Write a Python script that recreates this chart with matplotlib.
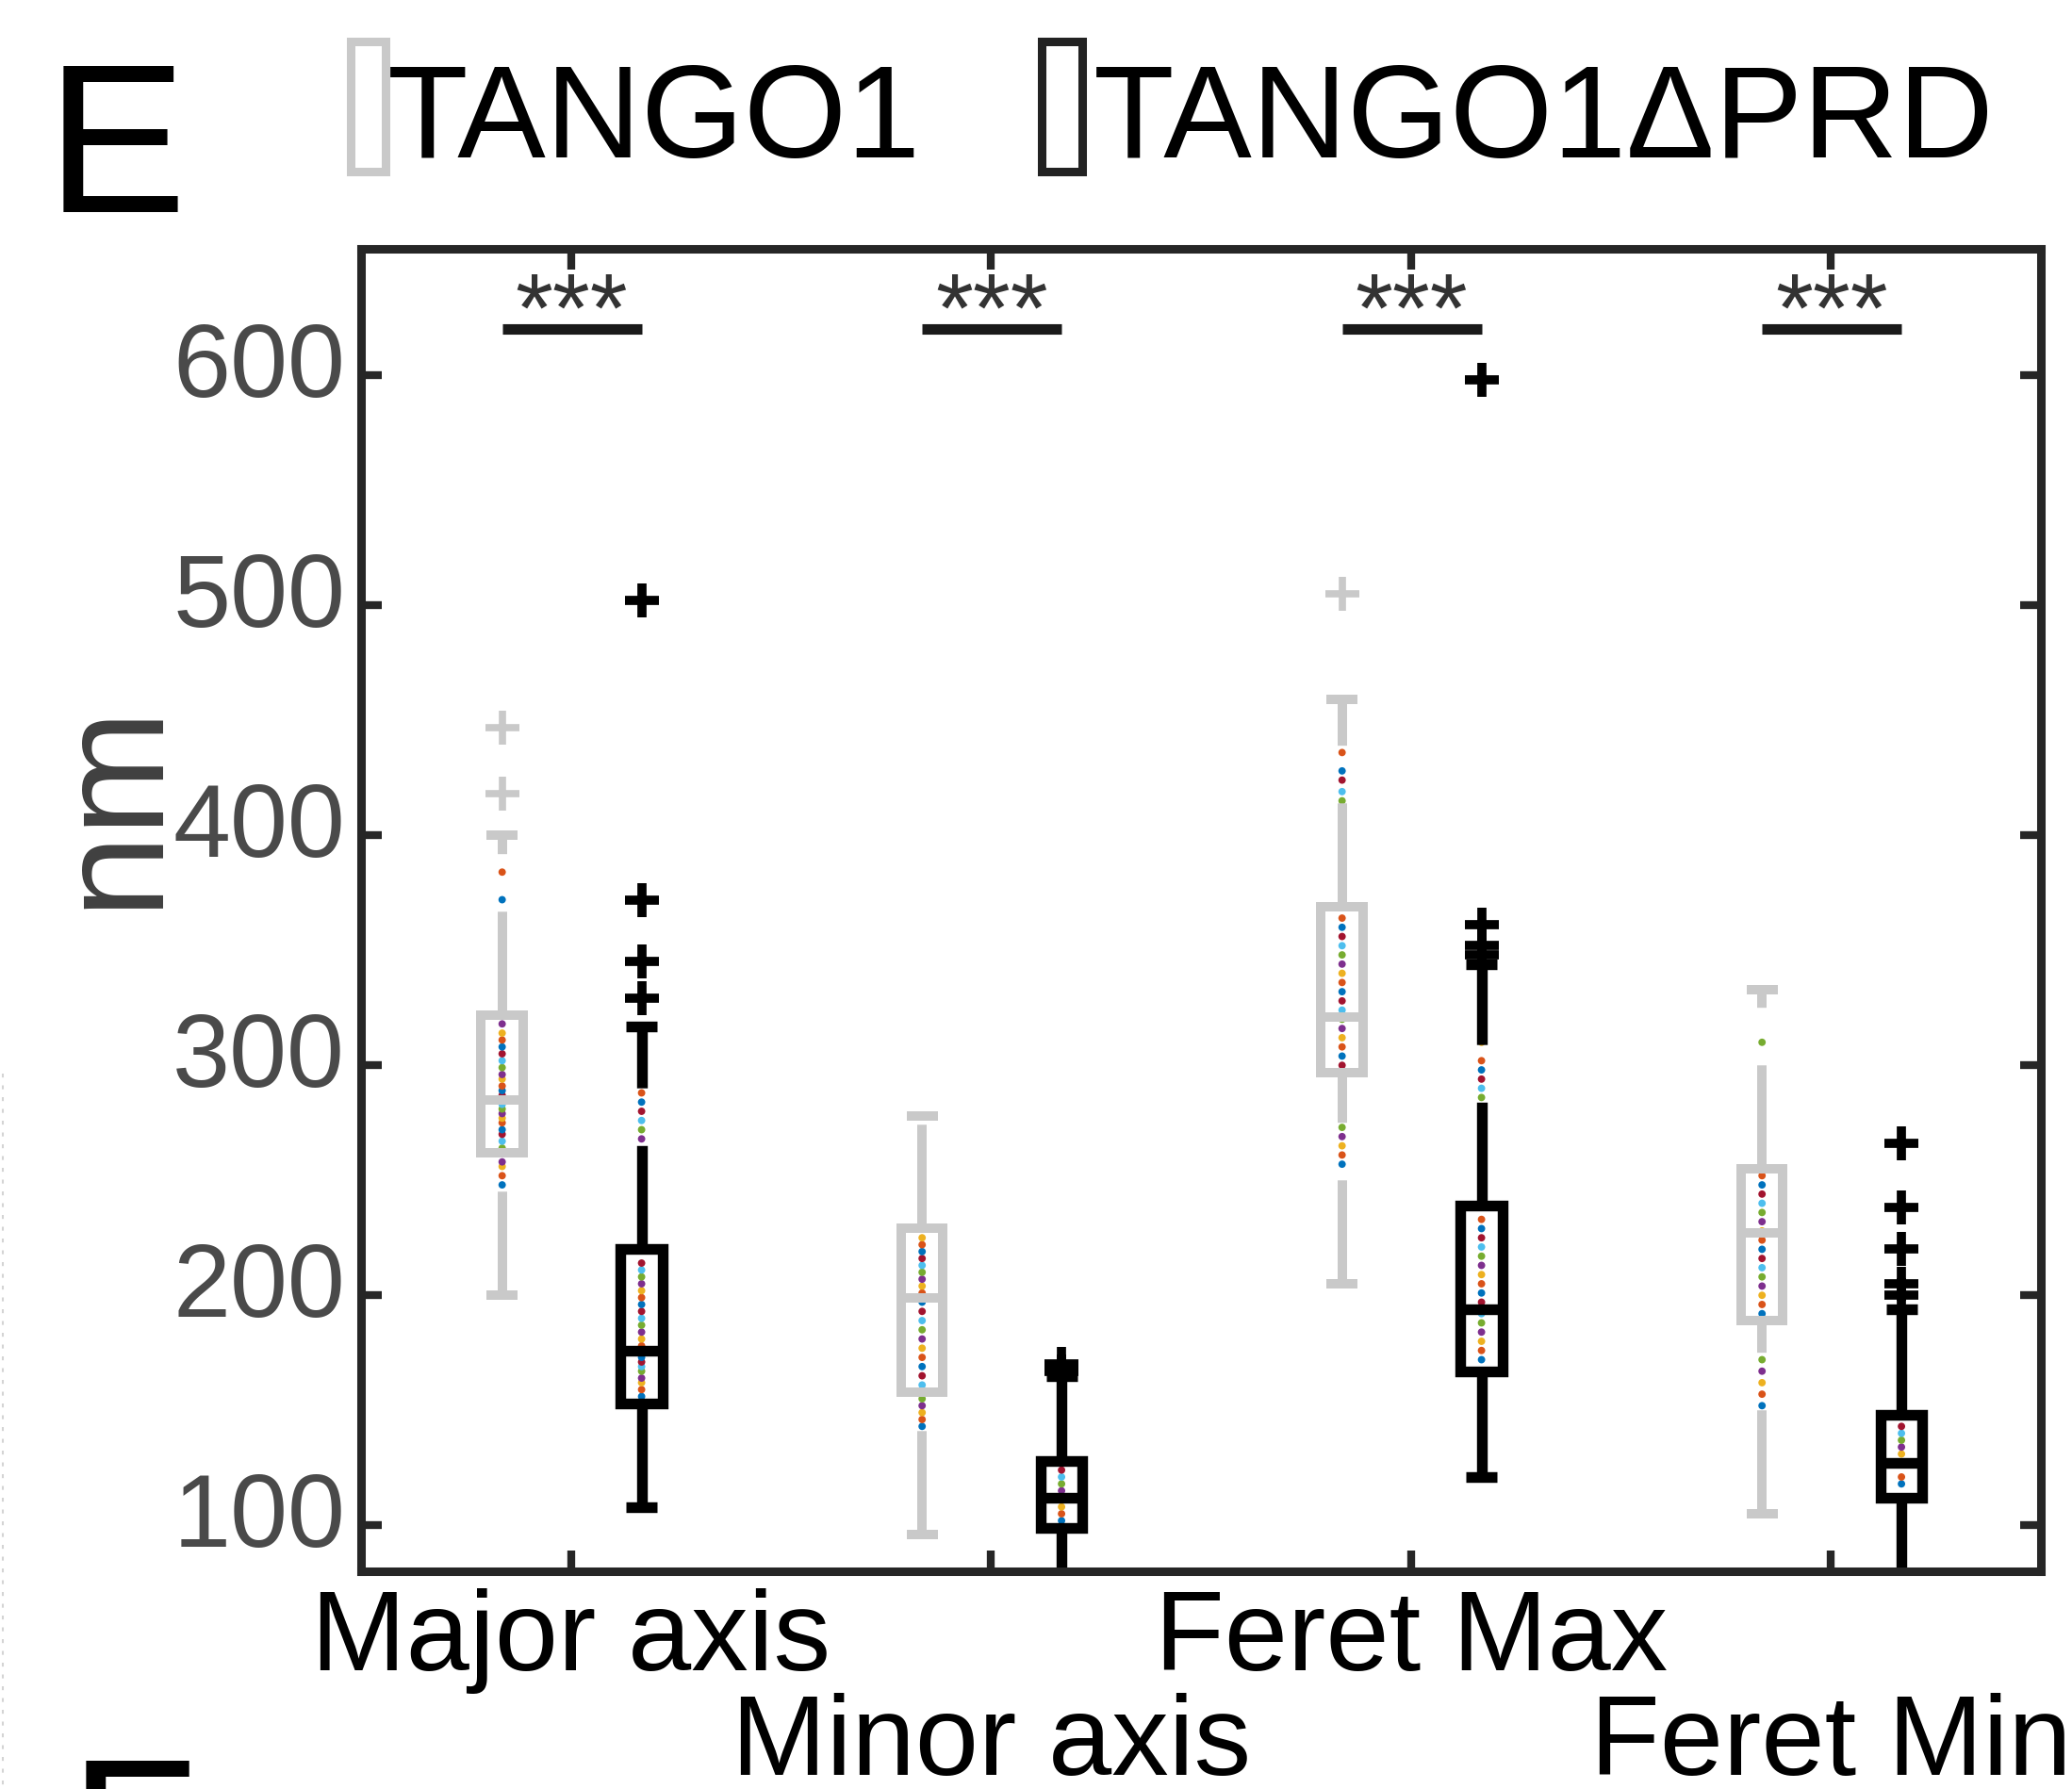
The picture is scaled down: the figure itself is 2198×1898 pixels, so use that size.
import matplotlib
matplotlib.use("Agg")
import matplotlib.pyplot as plt
from matplotlib.patches import Rectangle
from matplotlib.lines import Line2D
from matplotlib.transforms import offset_copy

plt.rcParams["font.family"] = ["Liberation Sans", "DejaVu Sans"]
plt.rcParams["lines.scale_dashes"] = False

W, H = 2198, 1899

groups = ["Major axis", "Minor axis", "Feret Max", "Feret Min"]
label_row = [0, 1, 0, 1]

# TANGO1 box stats (nm)
t1_q1 = [262, 158, 297, 189]
t1_med = [285, 199, 321, 227]
t1_q3 = [322, 229, 369, 255]
t1_lo = [200, 96, 205, 105]
t1_hi = [400, 278, 459, 333]
t1_out = [[418, 447], [], [505], []]

# TANGO1dPRD box stats (nm)
d_q1 = [153, 99, 167, 112]
d_med = [176, 112, 194, 127]
d_q3 = [220, 128, 239, 148]
d_lo = [108, 68, 121, 72]
d_hi = [317, 165, 344, 194]
d_out = [[329, 345, 372, 502], [167, 170], [348, 352, 361, 598],
         [200, 205, 220, 238, 266]]

# individual measurements drawn as small dots behind the boxes
t1_pts = [
    [248, 252, 256, 258, 264, 267, 270, 272, 275, 277, 279, 281, 283, 287,
     289, 291, 294, 296, 299, 302, 305, 308, 311, 314, 318, 330, 345, 358,
     372, 384, 394],
    [143, 146, 149, 152, 155, 161, 165, 169, 173, 177, 181, 185, 189, 193,
     197, 201, 204, 207, 210, 213, 216, 219, 222, 225, 240, 255, 268],
    [257, 261, 265, 269, 273, 277, 300, 304, 308, 312, 316, 320, 324, 328,
     332, 336, 340, 344, 348, 352, 356, 360, 364, 385, 402, 415, 419, 424,
     428, 436],
    [152, 157, 162, 167, 172, 178, 182, 192, 196, 200, 204, 208, 212, 216,
     220, 224, 228, 232, 236, 240, 244, 248, 252, 270, 290, 310],
]
d_pts = [
    [156, 159, 162, 164, 167, 169, 171, 173, 178, 181, 184, 187, 190, 193,
     196, 199, 202, 205, 208, 211, 214, 230, 245, 258, 268, 272, 276, 280,
     284, 288, 300],
    [102, 105, 108, 115, 118, 121, 124],
    [172, 176, 180, 184, 188, 192, 197, 201, 205, 209, 213, 217, 221, 225,
     229, 233, 252, 268, 286, 290, 294, 298, 302, 310, 325],
    [118, 121, 131, 134, 137, 140, 143],
]

yticks = [100, 200, 300, 400, 500, 600]
sig_level = 620
sig_text = "***"

dot_colors = ["#0072BD", "#D95319", "#EDB120", "#7E2F8E", "#77AC30",
              "#4DBEEE", "#A2142F"]
gray = "#c9c9c9"
dark = "#000000"
dash = (0, (79, 44))

fig = plt.figure(figsize=(W / 100, H / 100), dpi=100)
ax = fig.add_axes([383 / W, 1 - 1668 / H, (2165 - 383) / W, (1668 - 265) / H])
ax.set_xlim(0.5, 4.5)
ax.set_ylim(80, 655)


def draw_box(x, q1, med, q3, lo, hi, out, pts, color, lw, mew):
    hw, cw = 0.05, 0.037
    cols = [dot_colors[k % len(dot_colors)] for k in range(len(pts))]
    ax.scatter([x] * len(pts), pts, s=32, c=cols, linewidths=0, zorder=1)
    ax.add_patch(Rectangle((x - hw, q1), 2 * hw, q3 - q1, fill=False,
                           ec=color, lw=lw, joinstyle="miter", zorder=3))
    ax.plot([x - hw, x + hw], [med, med], color=color, lw=lw,
            solid_capstyle="butt", zorder=3)
    ax.plot([x, x], [lo, q1], color=color, lw=lw, ls=dash,
            dash_capstyle="butt", zorder=2)
    ax.plot([x, x], [q3, hi], color=color, lw=lw, ls=dash,
            dash_capstyle="butt", zorder=2)
    for v in (lo, hi):
        ax.plot([x - cw, x + cw], [v, v], color=color, lw=lw,
                solid_capstyle="butt", zorder=3)
    if out:
        ax.plot([x] * len(out), out, "+", color=color, ms=26, mew=mew,
                zorder=4)


for i in range(len(groups)):
    gx, bx = i + 1 - 0.164, i + 1 + 0.168
    draw_box(gx, t1_q1[i], t1_med[i], t1_q3[i], t1_lo[i], t1_hi[i],
             t1_out[i], t1_pts[i], gray, 7.2, 5.5)
    draw_box(bx, d_q1[i], d_med[i], d_q3[i], d_lo[i], d_hi[i],
             d_out[i], d_pts[i], dark, 8.2, 7)
    ax.plot([gx, bx], [sig_level, sig_level], color="#1a1a1a", lw=8,
            solid_capstyle="butt")
    ax.text((gx + bx) / 2, sig_level + 6, sig_text, ha="center",
            va="center", fontsize=74, color="#333333")

# frame and ticks
for sp in ax.spines.values():
    sp.set_linewidth(6.5)
    sp.set_color("#262626")
ax.set_xticks(range(1, len(groups) + 1))
ax.set_yticks(yticks)
ax.tick_params(direction="in", length=16, width=6, color="#262626",
               top=True, right=True, labelbottom=False, labelleft=False)

# tick labels
xt = ax.get_xaxis_transform()
for i, name in enumerate(groups):
    dy = -104 if label_row[i] == 0 else -215
    ax.text(i + 1, 0, name, ha="center", va="baseline", fontsize=87,
            color="black",
            transform=offset_copy(xt, fig=fig, y=dy, units="dots"))
yt = ax.get_yaxis_transform()
for v in yticks:
    ax.text(0, v, str(v), ha="right", va="baseline", fontsize=79,
            color="#4a4a4a",
            transform=offset_copy(yt, fig=fig, x=-17, y=-22, units="dots"))

fig.text(163 / W, 1 - 853 / H, "nm", rotation=90, rotation_mode="anchor",
         ha="center", va="baseline", fontsize=115, color="#404040")

# legend
fig.add_artist(Rectangle((371.5 / W, 1 - 182.5 / H), 37 / W, 138 / H,
                         fill=False, ec=gray, lw=6.5, transform=fig.transFigure))
fig.add_artist(Rectangle((1104.5 / W, 1 - 182.5 / H), 43 / W, 138 / H,
                         fill=False, ec="#222222", lw=6.5,
                         transform=fig.transFigure))
fig.text(411 / W, 1 - 167 / H, "TANGO1", fontsize=101, va="baseline")
fig.text(1160 / W, 1 - 167 / H, "TANGO1\u0394PRD", fontsize=101, va="baseline")

# panel letters
fig.text(49 / W, 1 - 225 / H, "E", fontsize=161, va="baseline")
fig.text(73 / W, 1 - 2023 / H, "F", fontsize=161, va="baseline")
fig.add_artist(Line2D([3 / W, 3 / W], [1 - 1140 / H, 0], color="#d4d4d4",
                      lw=1.5, ls=(0, (3, 6))))

fig.savefig("out.png", dpi=100)
